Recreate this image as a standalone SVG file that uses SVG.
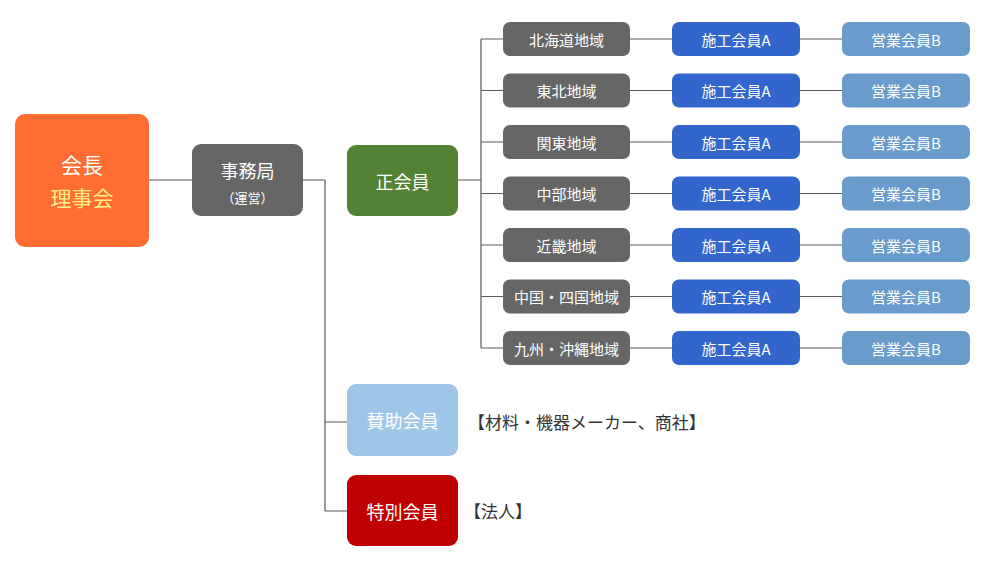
<svg xmlns="http://www.w3.org/2000/svg" width="1000" height="565" viewBox="0 0 1000 565">
<style>
text{font-family:"Noto Sans CJK JP","Noto Sans",sans-serif;text-anchor:middle;dominant-baseline:central;fill:#fff}
.ln{stroke:#5a5a5a;stroke-width:1.2;fill:none}
.rg{fill:#666666}
.sa{fill:#3366cc}
.eb{fill:#6a9bcd}
.s14{font-size:15px}
.note{fill:#333;text-anchor:start;font-size:17px}
</style>
<rect width="1000" height="565" fill="#fff"/>
<g id="connectors">
<path class="ln" d="M149 180H192M303 180H325M325 180V511M325 422H347M325 511H347M458 180H481M481 39V348"/>
<path class="ln" d="M481 39H503M481 90.5H503M481 142H503M481 193.5H503M481 245H503M481 296.5H503M481 348H503"/>
<path class="ln" d="M630 39H672M630 90.5H672M630 142H672M630 193.5H672M630 245H672M630 296.5H672M630 348H672"/>
<path class="ln" d="M800 39H842M800 90.5H842M800 142H842M800 193.5H842M800 245H842M800 296.5H842M800 348H842"/>
</g>
<g id="kaicho"><rect x="15" y="114" width="134" height="133" rx="10" fill="#ff6d33"/><text x="82" y="164" font-size="21">会長</text><text x="82" y="197" font-size="21" style="fill:#ffee88">理事会</text></g>
<g id="jimukyoku"><rect x="192" y="144" width="111" height="72" rx="9" fill="#666"/><text x="247.5" y="170" font-size="18">事務局</text><text x="247.5" y="197" font-size="13">（運営）</text></g>
<g id="seikaiin"><rect x="347" y="145" width="111" height="71" rx="9" fill="#548235"/><text x="402.5" y="181" font-size="18">正会員</text></g>
<g id="sanjo"><rect x="347" y="384" width="111" height="72" rx="9" fill="#9fc5e8"/><text x="402.5" y="420" font-size="18">賛助会員</text></g>
<text class="note" x="468" y="421">【材料・機器メーカー、商社】</text>
<g id="tokubetsu"><rect x="347" y="475" width="111" height="71" rx="9" fill="#c00000"/><text x="402.5" y="511" font-size="18">特別会員</text></g>
<text class="note" x="464" y="510">【法人】</text>
<g id="r1"><rect class="rg" x="503" y="22" width="127" height="34" rx="7"/><text class="s14" x="566.5" y="39">北海道地域</text></g>
<g id="r2"><rect class="rg" x="503" y="73.5" width="127" height="34" rx="7"/><text class="s14" x="566.5" y="90.5">東北地域</text></g>
<g id="r3"><rect class="rg" x="503" y="125" width="127" height="34" rx="7"/><text class="s14" x="566.5" y="142">関東地域</text></g>
<g id="r4"><rect class="rg" x="503" y="176.5" width="127" height="34" rx="7"/><text class="s14" x="566.5" y="193.5">中部地域</text></g>
<g id="r5"><rect class="rg" x="503" y="228" width="127" height="34" rx="7"/><text class="s14" x="566.5" y="245">近畿地域</text></g>
<g id="r6"><rect class="rg" x="503" y="279.5" width="127" height="34" rx="7"/><text class="s14" x="566.5" y="296.5">中国・四国地域</text></g>
<g id="r7"><rect class="rg" x="503" y="331" width="127" height="34" rx="7"/><text class="s14" x="566.5" y="348">九州・沖縄地域</text></g>
<g id="a1"><rect class="sa" x="672" y="22" width="128" height="34" rx="7"/><text class="s14" x="736" y="39">施工会員A</text></g>
<g id="a2"><rect class="sa" x="672" y="73.5" width="128" height="34" rx="7"/><text class="s14" x="736" y="90.5">施工会員A</text></g>
<g id="a3"><rect class="sa" x="672" y="125" width="128" height="34" rx="7"/><text class="s14" x="736" y="142">施工会員A</text></g>
<g id="a4"><rect class="sa" x="672" y="176.5" width="128" height="34" rx="7"/><text class="s14" x="736" y="193.5">施工会員A</text></g>
<g id="a5"><rect class="sa" x="672" y="228" width="128" height="34" rx="7"/><text class="s14" x="736" y="245">施工会員A</text></g>
<g id="a6"><rect class="sa" x="672" y="279.5" width="128" height="34" rx="7"/><text class="s14" x="736" y="296.5">施工会員A</text></g>
<g id="a7"><rect class="sa" x="672" y="331" width="128" height="34" rx="7"/><text class="s14" x="736" y="348">施工会員A</text></g>
<g id="b1"><rect class="eb" x="842" y="22" width="128" height="34" rx="7"/><text class="s14" x="906" y="39">営業会員B</text></g>
<g id="b2"><rect class="eb" x="842" y="73.5" width="128" height="34" rx="7"/><text class="s14" x="906" y="90.5">営業会員B</text></g>
<g id="b3"><rect class="eb" x="842" y="125" width="128" height="34" rx="7"/><text class="s14" x="906" y="142">営業会員B</text></g>
<g id="b4"><rect class="eb" x="842" y="176.5" width="128" height="34" rx="7"/><text class="s14" x="906" y="193.5">営業会員B</text></g>
<g id="b5"><rect class="eb" x="842" y="228" width="128" height="34" rx="7"/><text class="s14" x="906" y="245">営業会員B</text></g>
<g id="b6"><rect class="eb" x="842" y="279.5" width="128" height="34" rx="7"/><text class="s14" x="906" y="296.5">営業会員B</text></g>
<g id="b7"><rect class="eb" x="842" y="331" width="128" height="34" rx="7"/><text class="s14" x="906" y="348">営業会員B</text></g>
</svg>
